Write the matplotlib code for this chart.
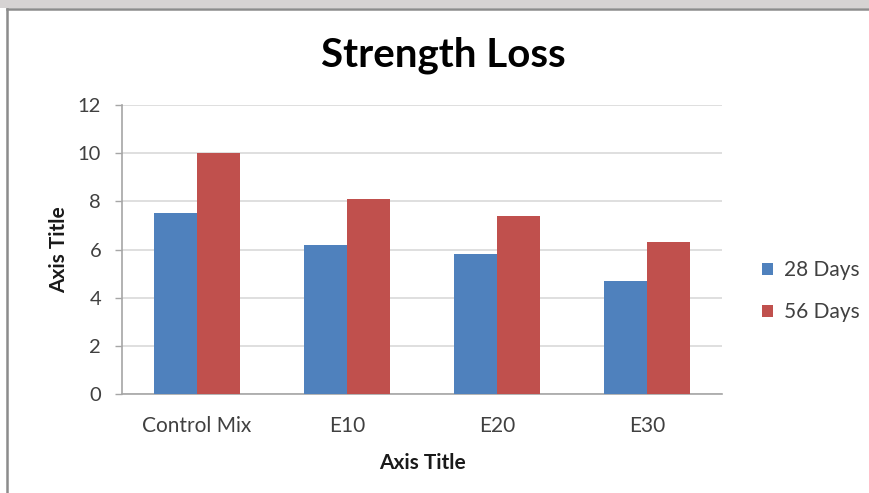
import matplotlib
matplotlib.use("Agg")
import matplotlib.pyplot as plt
import numpy as np
from matplotlib.patches import Rectangle
from matplotlib.lines import Line2D

categories = ["Control Mix", "E10", "E20", "E30"]
days_28 = [7.5, 6.2, 5.8, 4.7]
days_56 = [10.0, 8.1, 7.4, 6.3]
series_names = ["28 Days", "56 Days"]
y_ticks = [0, 2, 4, 6, 8, 10, 12]

BLUE = "#4F81BD"
RED = "#C0504D"
GRID = "#D9D9D9"
TEXT = "#404040"
FONT = "Lato"

W, H = 870, 493
fig = plt.figure(figsize=(W / 100, H / 100), dpi=100)
fig.patch.set_facecolor("white")

# strip above the chart frame
fig.add_artist(Rectangle((0, 1 - 8 / H), 1, 8 / H, transform=fig.transFigure,
                         facecolor="#D6D3D3", edgecolor="none", zorder=0))
# chart frame (left and top edges)
fig.add_artist(Line2D([7 / W, 7 / W], [0, 1 - 9 / H], transform=fig.transFigure,
                      color="#8C8C8C", lw=1.8))
fig.add_artist(Line2D([7 / W, 1], [1 - 9 / H, 1 - 9 / H], transform=fig.transFigure,
                      color="#8C8C8C", lw=1.8))

ax = fig.add_axes([122 / W, 1 - 394 / H, 600 / W, 289 / H])
x = np.arange(len(categories))
bw = 0.286
ax.bar(x - bw / 2, days_28, width=bw, color=BLUE, label=series_names[0], zorder=3)
ax.bar(x + bw / 2, days_56, width=bw, color=RED, label=series_names[1], zorder=3)

ax.set_xlim(-0.5, len(categories) - 0.5)
ax.set_ylim(0, 12)
ax.set_yticks(y_ticks)
ax.set_xticks(x)
ax.set_xticklabels(categories, fontsize=15, color=TEXT, family=FONT)
ax.set_yticklabels([str(t) for t in y_ticks], fontsize=14.5, color=TEXT, family=FONT)
ax.tick_params(axis="x", length=0, pad=16)
ax.tick_params(axis="y", length=5, width=1, color="#A6A6A6", pad=10, direction="out")

ax.grid(axis="y", color=GRID, lw=1.2, zorder=0)
ax.set_axisbelow(True)
for s in ["top", "right"]:
    ax.spines[s].set_visible(False)
for s in ["left", "bottom"]:
    ax.spines[s].set_color("#A6A6A6")
    ax.spines[s].set_linewidth(1.2)

ax.set_xlabel("Axis Title", fontsize=15, fontweight="bold", color="#1A1A1A",
              family=FONT, labelpad=12)
ax.set_ylabel("Axis Title", fontsize=15, fontweight="bold", color="#1A1A1A",
              family=FONT, labelpad=6)

fig.text(443 / W, 1 - 55 / H, "Strength Loss", ha="center", va="center",
         fontsize=29, fontweight="bold", color="#000000", family=FONT)

leg = ax.legend(loc="center left", bbox_to_anchor=(1.035, 0.355), frameon=False,
                prop={"family": FONT, "size": 15}, handlelength=0.55,
                handleheight=0.55, handletextpad=0.5, labelspacing=1.05)
for t in leg.get_texts():
    t.set_color(TEXT)

fig.savefig("out.png", dpi=100)
